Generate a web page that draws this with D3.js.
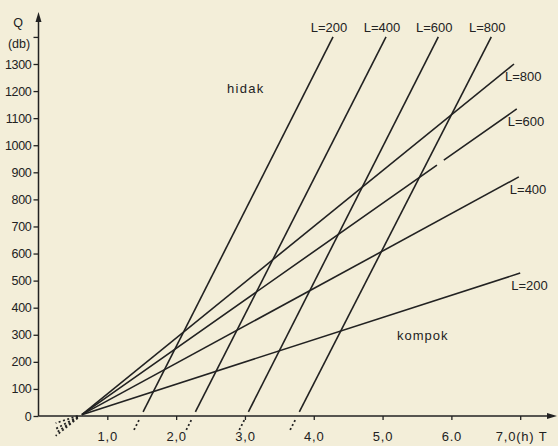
<!DOCTYPE html>
<html>
<head>
<meta charset="utf-8">
<script src="https://cdn.jsdelivr.net/npm/d3@7"></script>
<style>
  html, body { margin: 0; padding: 0; background: #f3eed9; }
  svg { display: block; }
  text { font-family: "Liberation Sans", Arial, sans-serif; fill: #222; }
</style>
</head>
<body>
<script>
// values
var lengths = [200, 400, 600, 800];

// "hidak" lines: T where Q = 0 and T where Q = 1400
var hidakT0 = [1.49, 2.25, 3.02, 3.76];
var hidakTtop = [4.28, 5.05, 5.81, 6.58];

// "kompok" lines: common start, end points per L
var kompokStart = [0.63, 5];
var kompokEndT = [7.0, 6.98, 6.95, 6.91];
var kompokEndQ = [528, 883, 1134, 1300];
var kompokGap600 = [5.79, 5.89];

var qTicks = [0, 100, 200, 300, 400, 500, 600, 700, 800, 900, 1000, 1100, 1200, 1300, 1400];
var tTicks = [1, 2, 3, 4, 5, 6, 7];
var tLabels = ["1,0", "2,0", "3,0", "4,0", "5,0", "6.0", "7,0(h) T"];

var w = 558, h = 446, ink = "#222";

var svg = d3.select("body").append("svg")
  .attr("width", w)
  .attr("height", h);

var x = d3.scaleLinear().domain([0, 7]).range([38.5, 520.2]),
    y = d3.scaleLinear().domain([0, 1300]).range([416, 64]);

// axes
var yAxis = d3.axisLeft(y).tickValues(qTicks).tickSize(5).tickPadding(2)
  .tickFormat(function(d) { return d == 1400 ? "" : d; });
var gy = svg.append("g").attr("transform", "translate(" + x(0) + ",0)").call(yAxis);
gy.select(".domain").remove();
gy.selectAll("line").attr("stroke", ink).attr("stroke-width", 1.3);
gy.selectAll("text").style("font-size", "12.5px").attr("fill", ink)
  .style("letter-spacing", "-0.3px");

var xAxis = d3.axisBottom(x).tickValues(tTicks).tickSize(4).tickPadding(12)
  .tickFormat(function(d, i) { return tLabels[i]; });
var gx = svg.append("g").attr("transform", "translate(0," + y(0) + ")").call(xAxis);
gx.select(".domain").remove();
gx.selectAll("line").attr("stroke", ink).attr("stroke-width", 1.3);
gx.selectAll("text").style("font-size", "13px").attr("fill", ink)
  .style("letter-spacing", "0.8px");
gx.selectAll("text").filter(function(d) { return d == 7; })
  .attr("text-anchor", "start").attr("x", -25);

// axis lines with arrows
svg.append("line").attr("x1", x(0)).attr("y1", y(0)).attr("x2", x(0)).attr("y2", 18)
  .attr("stroke", ink).attr("stroke-width", 1.5);
svg.append("path").attr("d", "M" + x(0) + ",12l-3,10h6z").attr("fill", ink);
svg.append("line").attr("x1", x(0)).attr("y1", y(0)).attr("x2", 551).attr("y2", y(0))
  .attr("stroke", ink).attr("stroke-width", 1.5);
svg.append("path").attr("d", "M557," + y(0) + "l-10,-3v6z").attr("fill", ink);

svg.append("text").attr("x", 18).attr("y", 27).attr("text-anchor", "middle")
  .style("font-size", "12.5px").text("Q");
svg.append("text").attr("x", 19).attr("y", 48).attr("text-anchor", "middle")
  .style("font-size", "12.5px").text("(db)");

var line = d3.line().x(function(d) { return x(d[0]); }).y(function(d) { return y(d[1]); });

// hidak lines
var hidak = lengths.map(function(L, i) {
  var s = 1400 / (hidakTtop[i] - hidakT0[i]);
  return { L: L, t0: hidakT0[i], t1: hidakTtop[i], s: s };
});
var gh = svg.append("g");
gh.selectAll(".solid").data(hidak).enter().append("path")
  .attr("d", function(d) { return line([[d.t0 + 15 / d.s, 15], [d.t1, 1400]]); })
  .attr("fill", "none").attr("stroke", ink).attr("stroke-width", 1.6);
gh.selectAll(".dot").data(hidak).enter().append("path")
  .attr("d", function(d) { return line([[d.t0 - 15 / d.s, -15], [d.t0 - 55 / d.s, -55]]); })
  .attr("fill", "none").attr("stroke", ink).attr("stroke-width", 1.8)
  .attr("stroke-dasharray", "2,2.5");
gh.selectAll("text").data(hidak).enter().append("text")
  .attr("x", function(d) { return x(d.t1) - 4; })
  .attr("y", 32)
  .attr("text-anchor", "middle")
  .style("font-size", "13px")
  .text(function(d) { return "L=" + d.L; });

// kompok lines
var kompok = lengths.map(function(L, i) {
  return { L: L, end: [kompokEndT[i], kompokEndQ[i]] };
});
function at(d, t) {
  var k = (d.end[1] - kompokStart[1]) / (d.end[0] - kompokStart[0]);
  return [t, kompokStart[1] + k * (t - kompokStart[0])];
}
var gk = svg.append("g");
gk.selectAll(".solid").data(kompok).enter().append("path")
  .attr("d", function(d) {
    if (d.L == 600) {
      return line([kompokStart, at(d, kompokGap600[0])]) + line([at(d, kompokGap600[1]), d.end]);
    }
    return line([kompokStart, d.end]);
  })
  .attr("fill", "none").attr("stroke", ink).attr("stroke-width", 1.6);
gk.selectAll(".dot").data(kompok).enter().append("path")
  .attr("d", function(d) { return line([at(d, 0.57), at(d, 0.25)]); })
  .attr("fill", "none").attr("stroke", ink).attr("stroke-width", 1.8)
  .attr("stroke-dasharray", "2,2.5");
gk.selectAll("text").data(kompok).enter().append("text")
  .attr("x", function(d) { return x(d.end[0]) - 9; })
  .attr("y", function(d) { return y(d.end[1]) + 17; })
  .style("font-size", "13px")
  .text(function(d) { return "L=" + d.L; });

svg.append("text").attr("x", 227).attr("y", 93)
  .style("font-size", "13px").style("letter-spacing", "1.3px").text("hidak");
svg.append("text").attr("x", 397).attr("y", 340)
  .style("font-size", "13px").style("letter-spacing", "1px").text("kompok");
</script>
</body>
</html>
